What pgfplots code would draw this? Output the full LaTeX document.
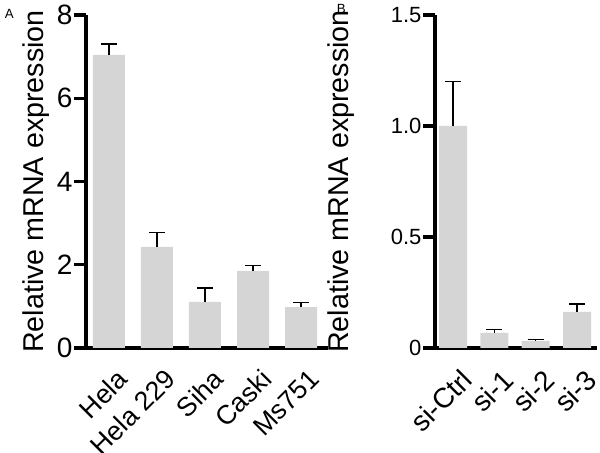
\documentclass[border=0pt]{standalone}
\usepackage{fontspec}
\setmainfont{Liberation Sans}
\usepackage{pgfplots}
\pgfplotsset{compat=1.18}
\definecolor{bargrey}{RGB}{212,213,212}
\pgfplotsset{
  panel/.style={
    scale only axis,
    height=249.75pt,
    ymin=0,
    axis x line=bottom,
    axis y line=left,
    axis line style={-, line width=2.4pt, black},
    tick align=outside,
    major tick length=9pt,
    ytick style={line width=2.4pt, black},
    xtick style={draw=none},
    xtick=data,
    /pgf/number format/assume math mode=true,
    yticklabel style={inner sep=1pt},
    xticklabel style={xshift=5pt, yshift=-5.5pt, rotate=45, anchor=north east, inner sep=0pt},
    ylabel style={rotate=0, anchor=center, font=\fontsize{21.5}{26}\selectfont},
    ybar, bar shift=0pt,
    clip=false,
  },
  barsty/.style={fill=bargrey, draw=none,
    error bars/.cd, y dir=plus, y explicit,
    error bar style={line width=1pt, black},
    error mark options={rotate=90, mark size=6pt, line width=1pt, black}},
}
\begin{document}
\begin{tikzpicture}
\useasboundingbox (0,0) rectangle (450pt,339.75pt);
\node[font=\fontsize{10}{12}\selectfont, anchor=north west, inner sep=0pt] at (3.5pt,333pt) {A};
\node[font=\fontsize{10}{12}\selectfont, anchor=north west, inner sep=0pt] at (252.5pt,336.5pt) {B};
\begin{axis}[panel,
  at={(64.5pt,78.75pt)}, anchor=south west,
  width=181.5pt,
  xmin=-0.479, xmax=4.5625, ymax=8,
  ytick={0,2,4,6,8},
  yticklabel style={font=\fontsize{21}{25}\selectfont},
  xticklabel style={font=\fontsize{20}{24}\selectfont},
  xticklabels={Hela, Hela 229, Siha, Caski, Ms751},
  bar width=24pt,
  ylabel={Relative mRNA expression},
  ylabel style={at={(axis description cs:-0.207,0.5)}},
]
\addplot+[barsty] coordinates {
  (0,7.04) +- (0,0.26)
  (1,2.43) +- (0,0.34)
  (2,1.11) +- (0,0.33)
  (3,1.85) +- (0,0.13)
  (4,0.98) +- (0,0.11)
};
\end{axis}
\begin{axis}[panel,
  at={(326.25pt,78.75pt)}, anchor=south west,
  width=121.5pt,
  xmin=-0.436, xmax=3.484, ymax=1.5,
  ytick={0,0.5,1,1.5},
  yticklabels={0,0.5,1.0,1.5},
  yticklabel style={font=\fontsize{16.5}{19}\selectfont},
  xticklabel style={font=\fontsize{21}{24}\selectfont},
  xticklabels={si-Ctrl, si-1, si-2, si-3},
  bar width=21pt,
  ylabel={Relative mRNA expression},
  ylabel style={at={(axis description cs:-0.58,0.5)}},
]
\addplot+[barsty] coordinates {
  (0,1.00) +- (0,0.20)
  (1,0.068) +- (0,0.014)
  (2,0.032) +- (0,0.006)
  (3,0.163) +- (0,0.035)
};
\end{axis}
\end{tikzpicture}
\end{document}
